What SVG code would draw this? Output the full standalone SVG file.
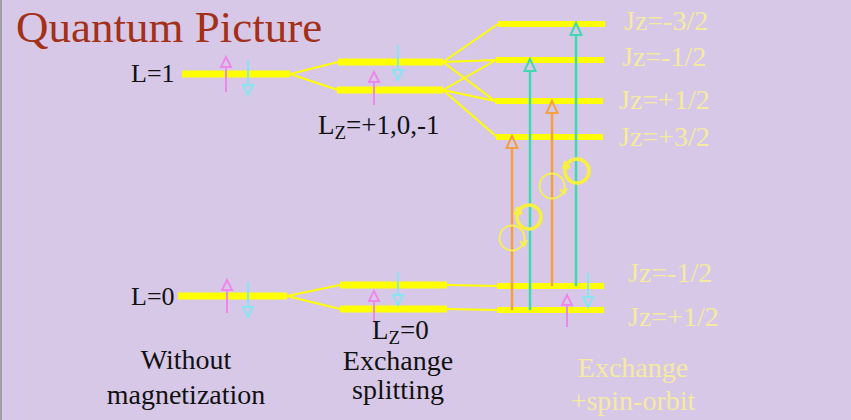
<svg xmlns="http://www.w3.org/2000/svg" width="851" height="420" viewBox="0 0 851 420">
<defs>
<style>
.bar{stroke:#ffff00;stroke-width:7;fill:none}
.bar6{stroke:#ffff00;stroke-width:6;fill:none}
.link{stroke:#ffff00;stroke-width:2;fill:none}
.up{stroke:#ee88e8;stroke-width:2;fill:none;marker-end:url(#mPink)}
.dn{stroke:#88e4f0;stroke-width:2;fill:none;marker-end:url(#mCyan)}
.or{stroke:#f4a040;stroke-width:2.5;fill:none;marker-end:url(#mOrange)}
.te{stroke:#40d8b0;stroke-width:2.5;fill:none;marker-end:url(#mTeal)}
.ser{font-family:"Liberation Serif","Times New Roman",serif}
.blk{fill:#111111}
.yl{fill:#f6eaa0}
.thin{stroke:#f8f050;stroke-width:1.8;fill:none}
.thick{stroke:#f8f040;stroke-width:3.5;fill:none}
</style>
<marker id="mPink" markerUnits="userSpaceOnUse" markerWidth="16" markerHeight="16" viewBox="-2 -8 16 16" refX="0" refY="0" orient="auto" overflow="visible"><path d="M0,-5 L10,0 L0,5 Z" fill="none" stroke="#ee88e8" stroke-width="2"/></marker>
<marker id="mCyan" markerUnits="userSpaceOnUse" markerWidth="16" markerHeight="16" viewBox="-2 -8 16 16" refX="0" refY="0" orient="auto" overflow="visible"><path d="M0,-5 L10,0 L0,5 Z" fill="none" stroke="#88e4f0" stroke-width="2"/></marker>
<marker id="mOrange" markerUnits="userSpaceOnUse" markerWidth="18" markerHeight="18" viewBox="-2 -9 18 18" refX="0" refY="0" orient="auto" overflow="visible"><path d="M0,-5.5 L12,0 L0,5.5 Z" fill="none" stroke="#f4a040" stroke-width="2"/></marker>
<marker id="mTeal" markerUnits="userSpaceOnUse" markerWidth="18" markerHeight="18" viewBox="-2 -9 18 18" refX="0" refY="0" orient="auto" overflow="visible"><path d="M0,-5.5 L12,0 L0,5.5 Z" fill="none" stroke="#40d8b0" stroke-width="2"/></marker>
</defs>
<rect x="0" y="0" width="851" height="420" fill="#d7c8e8"/>
<line x1="1" y1="0" x2="1" y2="420" stroke="#a0a0a8" stroke-width="2"/>

<text x="16" y="42" class="ser" font-size="45" fill="#a33018">Quantum Picture</text>

<g id="connectors">
<path class="link" d="M290,74 L338,62 M290,74 L338,90"/>
<path class="link" d="M443,62 L498,24 M443,62 L496,60 M443,62 L495,101 M443,90 L496,60 M443,90 L495,101 M443,90 L497,137"/>
<path class="link" d="M287,296 L340,285 M287,296 L340,309"/>
<path class="link" d="M447,285 L497,286 M447,309 L497,310"/>
</g>

<g id="level-L1">
<line class="bar" x1="182" y1="74" x2="290" y2="74"/>
<text x="131" y="82" class="ser blk" font-size="26">L=1</text>
<line class="up" x1="226" y1="92" x2="226" y2="67"/>
<line class="dn" x1="248" y1="60" x2="248" y2="85"/>
</g>

<g id="level-L0">
<line class="bar" x1="178" y1="296" x2="287" y2="296"/>
<text x="131" y="305" class="ser blk" font-size="26">L=0</text>
<line class="up" x1="227" y1="313" x2="227" y2="290"/>
<line class="dn" x1="248" y1="282" x2="248" y2="307"/>
</g>

<g id="exchange-upper">
<line class="bar" x1="338" y1="62" x2="443" y2="62"/>
<line class="bar" x1="337" y1="90" x2="443" y2="90"/>
<line class="dn" x1="398" y1="45" x2="398" y2="70"/>
<line class="up" x1="374" y1="105" x2="374" y2="82"/>
<text x="318" y="134" class="ser blk" font-size="27">L<tspan font-size="19" dy="5">Z</tspan><tspan dy="-5">=+1,0,-1</tspan></text>
</g>

<g id="exchange-lower">
<line class="bar" x1="340" y1="285" x2="447" y2="285"/>
<line class="bar" x1="340" y1="309" x2="447" y2="309"/>
<line class="up" x1="374" y1="323" x2="374" y2="301"/>
<line class="dn" x1="398" y1="272" x2="398" y2="295"/>
<text x="372" y="339" class="ser blk" font-size="27">L<tspan font-size="19" dy="5">Z</tspan><tspan dy="-5">=0</tspan></text>
</g>

<g id="so-upper">
<line class="bar6" x1="498" y1="24" x2="605" y2="24"/>
<line class="bar6" x1="496" y1="60" x2="604" y2="60"/>
<line class="bar6" x1="495" y1="101" x2="603" y2="101"/>
<line class="bar6" x1="496" y1="137" x2="603" y2="137"/>
<text x="624" y="30" class="ser yl" font-size="28">Jz=-3/2</text>
<text x="622" y="66" class="ser yl" font-size="28">Jz=-1/2</text>
<text x="619" y="109" class="ser yl" font-size="28">Jz=+1/2</text>
<text x="619" y="146" class="ser yl" font-size="28">Jz=+3/2</text>
</g>

<g id="so-lower">
<line class="bar6" x1="497" y1="286" x2="604" y2="286"/>
<line class="bar6" x1="497" y1="310" x2="604" y2="310"/>
<line class="up" x1="567" y1="327" x2="567" y2="305"/>
<line class="dn" x1="588" y1="273" x2="588" y2="297"/>
<text x="628" y="282" class="ser yl" font-size="28">Jz=-1/2</text>
<text x="628" y="326" class="ser yl" font-size="28">Jz=+1/2</text>
</g>

<g id="transitions">
<line class="or" x1="512" y1="310" x2="512" y2="148"/>
<line class="te" x1="530" y1="310" x2="530" y2="71"/>
<line class="or" x1="552" y1="286" x2="552" y2="113"/>
<line class="te" x1="576" y1="286" x2="576" y2="35"/>
</g>

<g id="polarization">
<circle class="thin" cx="512" cy="238" r="12.5"/>
<path class="thin" d="M520,241 L524,246 L527,240"/>
<circle class="thick" cx="529" cy="217" r="12"/>
<path class="thick" d="M518,207 L516,213 L522,213"/>
<circle class="thin" cx="552" cy="186" r="12.5"/>
<path class="thin" d="M560,189 L564,194 L567,188"/>
<circle class="thick" cx="577" cy="171" r="12"/>
<path class="thick" d="M566,161 L564,167 L570,167"/>
</g>

<g id="captions">
<text x="186" y="369" class="ser blk" font-size="28" text-anchor="middle">Without</text>
<text x="186" y="404" class="ser blk" font-size="28" text-anchor="middle">magnetization</text>
<text x="398" y="370" class="ser blk" font-size="28" text-anchor="middle">Exchange</text>
<text x="398" y="399" class="ser blk" font-size="28" text-anchor="middle">splitting</text>
<text x="633" y="377" class="ser yl" font-size="28" text-anchor="middle">Exchange</text>
<text x="633" y="410" class="ser yl" font-size="28" text-anchor="middle">+spin-orbit</text>
</g>
</svg>
